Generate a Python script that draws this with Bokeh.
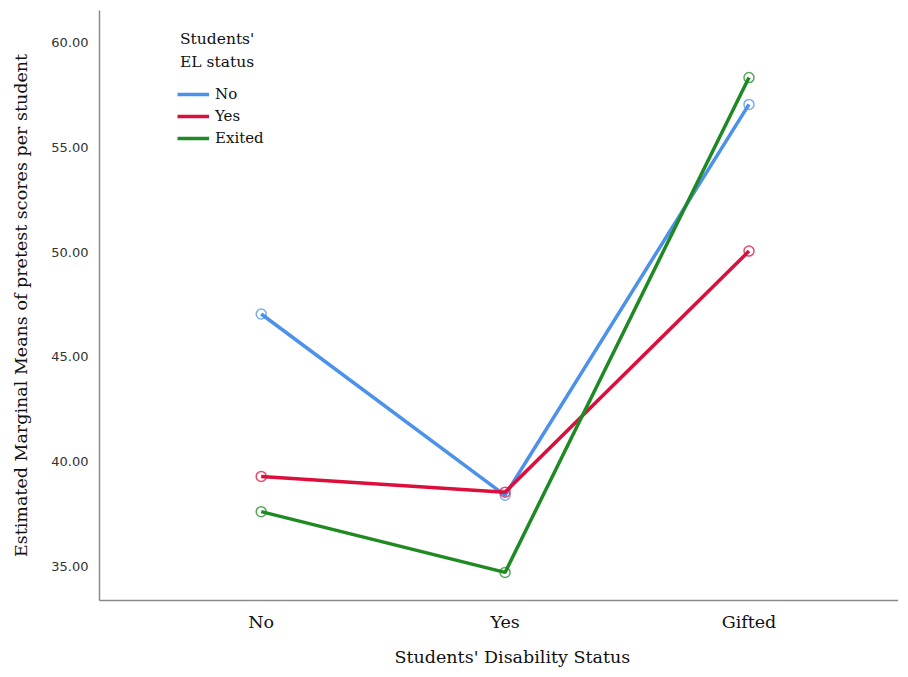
from bokeh.plotting import figure
from bokeh.models import ColumnDataSource, FixedTicker, Range1d, Legend, LegendItem, Label, Title
from bokeh.embed import file_html
from bokeh.resources import INLINE

categories = ["No", "Yes", "Gifted"]
el_groups = ["No", "Yes", "Exited"]
legend_title = ["Students'", "EL status"]
means_no = [47.05, 38.40, 57.05]
means_yes = [39.30, 38.55, 50.05]
means_exited = [37.62, 34.72, 58.33]
y_ticks = [35, 40, 45, 50, 55, 60]
colors = ["#4d92ea", "#dc0f3c", "#1f8a24"]

SERIF = "DejaVu Serif"

p = figure(width=898, height=677, output_backend="svg", toolbar_location=None,
           x_range=Range1d(-0.663, 2.613), y_range=Range1d(33.38, 61.53),
           min_border_left=99, min_border_top=10, min_border_bottom=77, min_border_right=0)
p.outline_line_color = None
p.grid.grid_line_color = None
p.background_fill_color = "white"

xs = list(range(len(categories)))
items = []
for name, vals, c in zip(el_groups, [means_no, means_yes, means_exited], colors):
    src = ColumnDataSource(dict(x=xs, y=vals))
    r = p.line("x", "y", source=src, line_color=c, line_width=3.5)
    p.scatter("x", "y", source=src, marker="circle", size=10, fill_color=None,
              line_color=c, line_width=1.5, line_alpha=0.75)
    items.append(LegendItem(label=name, renderers=[r]))

legend = Legend(items=items, location=(78, 453),
                label_text_font=SERIF, label_text_font_size="15px",
                label_text_color="#111", glyph_width=32, glyph_height=16,
                label_height=16, label_standoff=6, spacing=4, padding=6, margin=0,
                border_line_color=None, background_fill_alpha=0)
p.add_layout(legend)

# legend heading, two lines
for txt, yy in zip(legend_title, [60.19, 59.05]):
    p.add_layout(Label(x=-0.333, y=yy, text=txt, text_font=SERIF, text_font_size="15.5px",
                       text_color="#111", text_align="left", text_baseline="middle"))

p.xaxis.ticker = FixedTicker(ticks=xs)
p.xaxis.major_label_overrides = {i: c for i, c in enumerate(categories)}
p.yaxis.ticker = FixedTicker(ticks=y_ticks)
p.yaxis.major_label_overrides = {t: f"{t:.2f}" for t in y_ticks}

for ax in (p.xaxis, p.yaxis):
    ax.major_tick_line_color = None
    ax.minor_tick_line_color = None
    ax.axis_line_color = "#8a8a8a"
    ax.axis_line_width = 1.5

p.yaxis.major_label_text_font = "DejaVu Sans"
p.yaxis.major_label_text_font_size = "13px"
p.yaxis.major_label_text_color = "#333"
p.yaxis.major_label_standoff = 5
p.xaxis.major_label_text_font = SERIF
p.xaxis.major_label_text_font_size = "17.5px"
p.xaxis.major_label_text_color = "#111"
p.xaxis.major_label_standoff = 5

p.yaxis.axis_label = "Estimated Marginal Means of pretest scores per student"
p.yaxis.axis_label_text_font = SERIF
p.yaxis.axis_label_text_font_size = "17.5px"
p.yaxis.axis_label_text_font_style = "normal"
p.yaxis.axis_label_text_color = "#111"
p.yaxis.axis_label_standoff = 17

x_title = Title(text="Students' Disability Status", align="left", offset=295,
                text_font=SERIF, text_font_size="17.5px", text_font_style="normal",
                text_color="#111", standoff=21)
p.add_layout(x_title, "below")

open("out.html", "w").write(file_html(p, INLINE))
